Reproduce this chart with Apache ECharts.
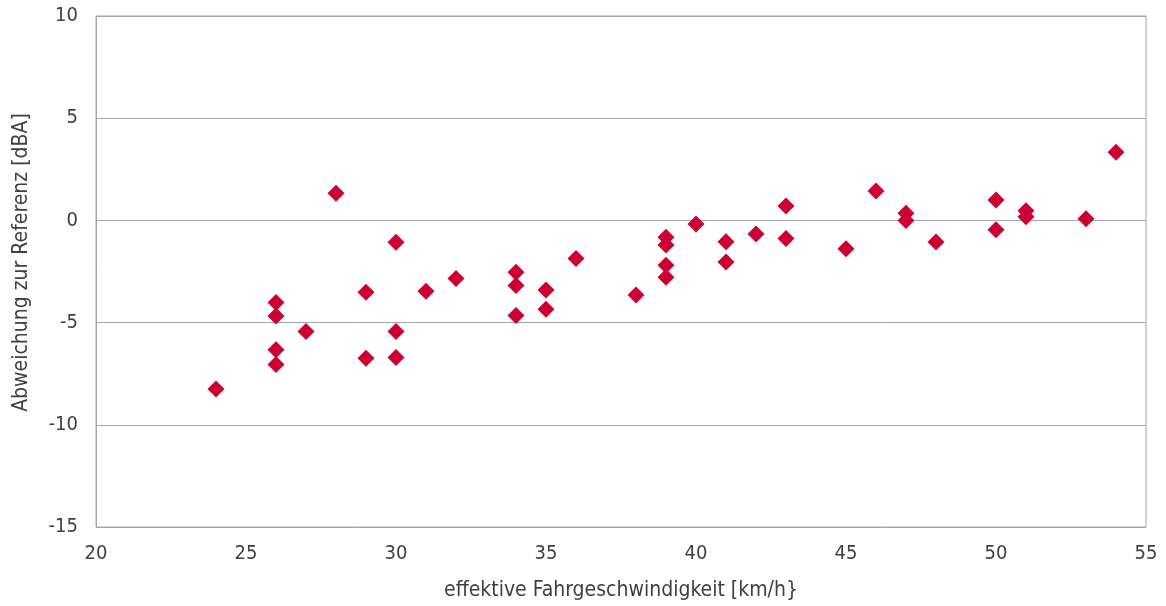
<!DOCTYPE html>
<html>
<head>
<meta charset="utf-8">
<script src="https://cdn.jsdelivr.net/npm/echarts@6/dist/echarts.min.js"></script>
<style>html,body{margin:0;padding:0;background:#fff}#c{width:1166px;height:606px}</style>
</head>
<body>
<div id="c"></div>
<script>
const speed = [24, 26, 26, 26, 26, 27, 28, 29, 29, 30, 30, 30, 31, 32, 34, 34, 34, 35, 35, 36, 38, 39, 39, 39, 39, 40, 41, 41, 42, 43, 43, 45, 46, 47, 47, 48, 50, 50, 51, 51, 53, 54];
const deviation = [-8.25, -4.02, -4.68, -6.33, -7.05, -5.44, 1.33, -3.52, -6.74, -1.07, -5.44, -6.71, -3.47, -2.84, -2.54, -3.18, -4.65, -3.4, -4.35, -1.86, -3.65, -0.82, -1.2, -2.2, -2.78, -0.18, -1.05, -2.03, -0.67, 0.71, -0.88, -1.39, 1.44, 0.35, 0.0, -1.06, 1.0, -0.46, 0.47, 0.18, 0.08, 3.34];
const xTicks = [20, 55, 5];
const yTicks = [-15, 10, 5];
const xTitle = 'effektive Fahrgeschwindigkeit [km/h}';
const yTitle = 'Abweichung zur Referenz [dBA]';

const points = speed.map((s, i) => [s, deviation[i]]);
const font = '"DejaVu Sans Condensed", "Liberation Sans Narrow", "Liberation Sans", sans-serif';
const chart = echarts.init(document.getElementById('c'));
chart.setOption({
  animation: false,
  grid: { left: 96, right: 20, top: 16, bottom: 79, show: true, borderColor: '#a6a6a6', borderWidth: 1 },
  xAxis: {
    type: 'value', min: xTicks[0], max: xTicks[1], interval: xTicks[2],
    name: xTitle, nameLocation: 'middle', nameGap: 53,
    nameTextStyle: { fontFamily: font, fontSize: 21, color: '#404040' },
    axisLine: { show: true, lineStyle: { color: '#a6a6a6' } },
    axisTick: { show: false },
    splitLine: { show: false },
    axisLabel: { fontFamily: font, fontSize: 20, color: '#404040', margin: 17 }
  },
  yAxis: {
    type: 'value', min: yTicks[0], max: yTicks[1], interval: yTicks[2],
    name: yTitle, nameLocation: 'middle', nameGap: 64,
    nameTextStyle: { fontFamily: font, fontSize: 21, color: '#404040', padding: [0, 0, 0, 18] },
    axisLine: { show: true, lineStyle: { color: '#a6a6a6' } },
    axisTick: { show: false },
    splitLine: { show: true, lineStyle: { color: '#a6a6a6', width: 1 } },
    axisLabel: { fontFamily: font, fontSize: 20, color: '#404040', margin: 18 }
  },
  series: [{
    type: 'scatter',
    data: points,
    symbol: 'diamond',
    symbolSize: [17, 17],
    itemStyle: { color: '#cc0033', opacity: 1 }
  }]
});
</script>
</body>
</html>
